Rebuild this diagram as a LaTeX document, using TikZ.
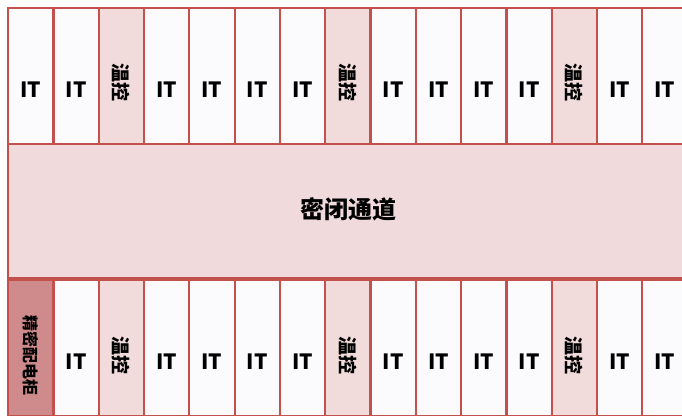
\documentclass[tikz,border=0pt]{standalone}
\usepackage{fontspec}
\setmainfont{Noto Sans CJK SC}
\definecolor{bordred}{HTML}{C4504E}
\definecolor{pinkfill}{HTML}{F2DCDB}
\definecolor{chanfill}{HTML}{F0DADB}
\definecolor{darkfill}{HTML}{CF8A8C}
\definecolor{itfill}{HTML}{FBFBFD}
\tikzset{
  cell/.style={draw=bordred, line width=2.2pt, fill=itfill, minimum width=45.3pt, minimum height=136pt, inner sep=0pt, anchor=north west},
  itcell/.style={cell},
  tempcell/.style={cell, fill=pinkfill},
  pdcell/.style={cell, fill=darkfill},
  ittext/.style={font=\bfseries\fontsize{21}{21}\selectfont, inner sep=0pt},
  vtext/.style={rotate=-90, font=\bfseries\fontsize{19}{19}\selectfont, inner sep=0pt},
  chan/.style={draw=bordred, line width=2.2pt, fill=chanfill, minimum width=700pt, minimum height=134pt, inner sep=0pt, anchor=north west}
}
\begin{document}
\begin{tikzpicture}[x=1pt,y=1pt]
\useasboundingbox (0,0) rectangle (682,415);
\fill[white] (0,0) rectangle (682,415);
\begin{scope}
\clip (0,0) rectangle (682,415);
% top row
\foreach \i in {0,...,14} {
  \pgfmathsetmacro{\xx}{7+45.3*\i}
  \ifnum\i=2
    \node[tempcell] (t\i) at (\xx,408) {};
    \node[vtext] (tl\i) at ([yshift=-6pt]t\i.center) {温控};
  \else\ifnum\i=7
    \node[tempcell] (t\i) at (\xx,408) {};
    \node[vtext] (tl\i) at ([yshift=-6pt]t\i.center) {温控};
  \else\ifnum\i=12
    \node[tempcell] (t\i) at (\xx,408) {};
    \node[vtext] (tl\i) at ([yshift=-6pt]t\i.center) {温控};
  \else
    \node[itcell] (t\i) at (\xx,408) {};
    \node[ittext] (tl\i) at ([yshift=-14pt]t\i.center) {IT};
  \fi\fi\fi
}
% channel
\node[chan] (ch) at (7,272) {};
\node[font=\bfseries\fontsize{24}{24}\selectfont] (chl) at (348,206) {密闭通道};
% bottom row
\foreach \i in {0,...,14} {
  \pgfmathsetmacro{\xx}{7+45.3*\i}
  \ifnum\i=0
    \node[pdcell] (b\i) at (\xx,136) {};
    \node[vtext, font=\bfseries\fontsize{16}{16}\selectfont] (bl\i) at ([yshift=-7pt]b\i.center) {精密配电柜};
  \else\ifnum\i=2
    \node[tempcell] (b\i) at (\xx,136) {};
    \node[vtext] (bl\i) at ([yshift=-7pt]b\i.center) {温控};
  \else\ifnum\i=7
    \node[tempcell] (b\i) at (\xx,136) {};
    \node[vtext] (bl\i) at ([yshift=-7pt]b\i.center) {温控};
  \else\ifnum\i=12
    \node[tempcell] (b\i) at (\xx,136) {};
    \node[vtext] (bl\i) at ([yshift=-7pt]b\i.center) {温控};
  \else
    \node[itcell] (b\i) at (\xx,136) {};
    \node[ittext] (bl\i) at ([yshift=-14pt]b\i.center) {IT};
  \fi\fi\fi\fi
}
\end{scope}
\end{tikzpicture}
\end{document}
